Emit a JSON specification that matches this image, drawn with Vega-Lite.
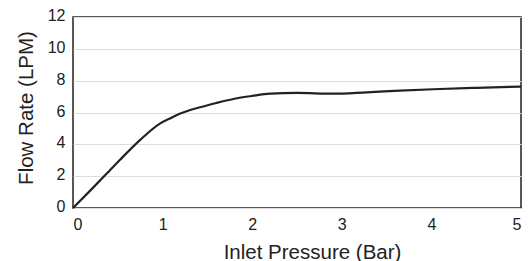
{
  "$schema": "https://vega.github.io/schema/vega-lite/v6.json",
  "autosize": "none",
  "width": 448,
  "height": 191,
  "padding": {"left": 73, "top": 17, "right": 9, "bottom": 53},
  "background": "white",
  "config": {
    "view": {"stroke": "#222", "strokeWidth": 1.5},
    "font": "Liberation Sans"
  },
  "data": {"values": [
    {"p": 0, "f": 0},
    {"p": 0.2, "f": 1.14},
    {"p": 0.4, "f": 2.3},
    {"p": 0.525, "f": 3.03},
    {"p": 0.75, "f": 4.28},
    {"p": 0.97, "f": 5.3},
    {"p": 1.08, "f": 5.62},
    {"p": 1.19, "f": 5.92},
    {"p": 1.3, "f": 6.14},
    {"p": 1.42, "f": 6.33},
    {"p": 1.6, "f": 6.6},
    {"p": 1.79, "f": 6.85},
    {"p": 2.0, "f": 7.04},
    {"p": 2.2, "f": 7.18},
    {"p": 2.5, "f": 7.23},
    {"p": 2.9, "f": 7.18},
    {"p": 3.28, "f": 7.27},
    {"p": 3.65, "f": 7.37},
    {"p": 4.02, "f": 7.46},
    {"p": 4.5, "f": 7.55},
    {"p": 5.0, "f": 7.63}
  ]},
  "mark": {"type": "line", "interpolate": "monotone", "color": "#222", "strokeWidth": 2.2},
  "encoding": {
    "x": {
      "field": "p", "type": "quantitative",
      "scale": {"domain": [0, 5], "nice": false},
      "axis": {
        "title": "Inlet Pressure (Bar)", "values": [0, 1, 2, 3, 4, 5],
        "grid": false, "ticks": false, "domain": false,
        "labelFontSize": 16, "labelColor": "#222", "labelPadding": 8,
        "titleFontSize": 20.5, "titleFontWeight": "normal", "titleColor": "#222",
        "titleX": 239, "titleY": 50, "titleBaseline": "alphabetic", "titleAlign": "center"
      }
    },
    "y": {
      "field": "f", "type": "quantitative",
      "scale": {"domain": [0, 12], "nice": false},
      "axis": {
        "title": "Flow Rate (LPM)", "values": [0, 2, 4, 6, 8, 10, 12],
        "grid": true, "gridColor": "#ddd", "gridWidth": 1,
        "ticks": false, "domain": false,
        "labelFontSize": 16, "labelColor": "#222", "labelPadding": 8, "labelOffset": -1.5,
        "titleFontSize": 20.5, "titleFontWeight": "normal", "titleColor": "#222",
        "titleX": -41, "titleY": 90.5, "titleBaseline": "alphabetic", "titleAlign": "center", "titleAngle": -90
      }
    }
  }
}
